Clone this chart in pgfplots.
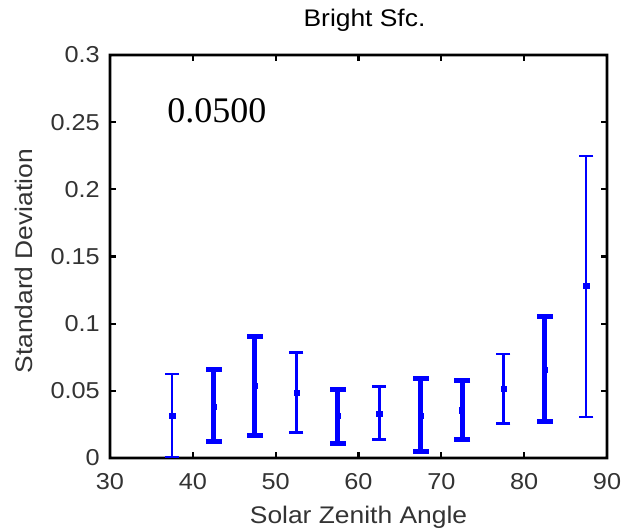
\documentclass[border=0pt]{standalone}
\usepackage{fontspec}
\setmainfont{Liberation Sans}[FakeStretch=1.1]
\newfontfamily\serifnum{Liberation Serif}
\usepackage{pgfplots}
\pgfplotsset{compat=1.18}
\definecolor{barblue}{RGB}{0,0,255}
\begin{document}
\begin{tikzpicture}
\begin{axis}[
  scale only axis,
  width=497pt, height=403pt,
  xmin=30, xmax=90, ymin=0, ymax=0.3,
  xtick={30,40,50,60,70,80,90},
  xticklabels={30,40,50,60,70,80,90},
  ytick={0,0.05,0.1,0.15,0.2,0.25,0.3},
  yticklabels={0,0.05,0.1,0.15,0.2,0.25,0.3},
  major tick length=0pt,
  axis line style={draw=none},
  unbounded coords=jump,
  xticklabel style={font=\fontsize{23}{26}\selectfont, inner sep=0pt, anchor=north, yshift=-15pt, text=black!80},
  yticklabel style={font=\fontsize{23}{26}\selectfont, inner sep=0pt, anchor=east, xshift=-10pt, text=black!80},
  xlabel={Solar Zenith Angle},
  ylabel={Standard Deviation},
  title={Bright Sfc.},
  xlabel style={font=\fontsize{24}{28}\selectfont, at={(axis description cs:0.5,0)}, anchor=base, yshift=-66pt, inner sep=0pt, text=black!80},
  ylabel style={font=\fontsize{24}{28}\selectfont, at={(axis description cs:-0.155,0.488)}, anchor=base, inner sep=0pt, text=black!80},
  title style={font=\fontsize{24}{28}\selectfont, at={(axis description cs:0.5,1)}, anchor=base, yshift=22pt, xshift=6pt, inner sep=0pt},
  clip=false,
]
% frame as a filled ring
\addplot[fill=black, draw=none, even odd rule] coordinates {
 (29.843,-0.00097) (90.157,-0.00097) (90.157,0.30097) (29.843,0.30097) (29.843,-0.00097)
 (30.157,0.00097) (30.157,0.29903) (89.843,0.29903) (89.843,0.00097) (30.157,0.00097)
 (29.843,-0.00097)} \closedcycle;
% inward ticks as filled rectangles (bottom)
\addplot[fill=black, draw=none] coordinates {(39.867,0) (40.133,0) (40.133,0.0045) (39.867,0.0045)};
\addplot[fill=black, draw=none] coordinates {(49.867,0) (50.133,0) (50.133,0.0045) (49.867,0.0045)};
\addplot[fill=black, draw=none] coordinates {(59.867,0) (60.133,0) (60.133,0.0045) (59.867,0.0045)};
\addplot[fill=black, draw=none] coordinates {(69.867,0) (70.133,0) (70.133,0.0045) (69.867,0.0045)};
\addplot[fill=black, draw=none] coordinates {(79.867,0) (80.133,0) (80.133,0.0045) (79.867,0.0045)};
% top
\addplot[fill=black, draw=none] coordinates {(39.867,0.3) (40.133,0.3) (40.133,0.2955) (39.867,0.2955)};
\addplot[fill=black, draw=none] coordinates {(49.867,0.3) (50.133,0.3) (50.133,0.2955) (49.867,0.2955)};
\addplot[fill=black, draw=none] coordinates {(59.867,0.3) (60.133,0.3) (60.133,0.2955) (59.867,0.2955)};
\addplot[fill=black, draw=none] coordinates {(69.867,0.3) (70.133,0.3) (70.133,0.2955) (69.867,0.2955)};
\addplot[fill=black, draw=none] coordinates {(79.867,0.3) (80.133,0.3) (80.133,0.2955) (79.867,0.2955)};
% left
\addplot[fill=black, draw=none] coordinates {(30,0.04918) (30.72,0.04918) (30.72,0.05082) (30,0.05082)};
\addplot[fill=black, draw=none] coordinates {(30,0.09918) (30.72,0.09918) (30.72,0.10082) (30,0.10082)};
\addplot[fill=black, draw=none] coordinates {(30,0.14918) (30.72,0.14918) (30.72,0.15082) (30,0.15082)};
\addplot[fill=black, draw=none] coordinates {(30,0.19918) (30.72,0.19918) (30.72,0.20082) (30,0.20082)};
\addplot[fill=black, draw=none] coordinates {(30,0.24918) (30.72,0.24918) (30.72,0.25082) (30,0.25082)};
% right
\addplot[fill=black, draw=none] coordinates {(90,0.04918) (89.28,0.04918) (89.28,0.05082) (90,0.05082)};
\addplot[fill=black, draw=none] coordinates {(90,0.09918) (89.28,0.09918) (89.28,0.10082) (90,0.10082)};
\addplot[fill=black, draw=none] coordinates {(90,0.14918) (89.28,0.14918) (89.28,0.15082) (90,0.15082)};
\addplot[fill=black, draw=none] coordinates {(90,0.19918) (89.28,0.19918) (89.28,0.20082) (90,0.20082)};
\addplot[fill=black, draw=none] coordinates {(90,0.24918) (89.28,0.24918) (89.28,0.25082) (90,0.25082)};
% thin bars: 37.5, 77.5, 87.5
\addplot[barblue, line width=2.2pt] coordinates {
 (37.5,0.0010) (37.5,0.0626) (37.5,nan)
 (77.5,0.0257) (77.5,0.0775) (77.5,nan)
 (87.5,0.0307) (87.5,0.2250)};
\addplot[barblue, only marks, mark=-, mark size=7pt, mark options={line width=2.2pt, barblue}] coordinates {
 (37.5,0.0010) (37.5,0.0626)
 (77.5,0.0257) (77.5,0.0775)
 (87.5,0.0307) (87.5,0.2250)};
% medium bars: 52.5, 62.5
\addplot[barblue, line width=3pt] coordinates {
 (52.5,0.0187) (52.5,0.0785) (52.5,nan)
 (62.5,0.0137) (62.5,0.0530)};
\addplot[barblue, only marks, mark=-, mark size=7pt, mark options={line width=3pt, barblue}] coordinates {
 (52.5,0.0187) (52.5,0.0785)
 (62.5,0.0137) (62.5,0.0530)};
% thick bars
\addplot[barblue, line width=5pt] coordinates {
 (42.5,0.0120) (42.5,0.0656) (42.5,nan)
 (47.5,0.0170) (47.5,0.0905) (47.5,nan)
 (57.5,0.0105) (57.5,0.0513) (57.5,nan)
 (67.5,0.0052) (67.5,0.0593) (67.5,nan)
 (72.5,0.0137) (72.5,0.0576) (72.5,nan)
 (82.5,0.0269) (82.5,0.1050)};
\addplot[barblue, only marks, mark=-, mark size=8pt, mark options={line width=5pt, barblue}] coordinates {
 (42.5,0.0120) (42.5,0.0656)
 (47.5,0.0170) (47.5,0.0905)
 (57.5,0.0105) (57.5,0.0513)
 (67.5,0.0052) (67.5,0.0593)
 (72.5,0.0137) (72.5,0.0576)
 (82.5,0.0269) (82.5,0.1050)};
% centres
\addplot[barblue, only marks, mark=square*, mark size=2.6pt, mark options={line width=0.4pt, barblue, fill=barblue}] coordinates {
 (37.5,0.0314) (42.5,0.0381) (47.5,0.0538) (52.5,0.0486) (57.5,0.0314)
 (62.5,0.0332) (67.5,0.0314) (72.5,0.0356) (77.5,0.0513) (82.5,0.0656) (87.5,0.1280)};
\node[anchor=base west, inner sep=0pt, font=\serifnum\fontsize{36}{40}\selectfont] at (axis cs:36.9,0.25) {0.0500};
\end{axis}
\pgfresetboundingbox
\path[use as bounding box] ([xshift=-110pt, yshift=-70pt]current axis.south west) rectangle ([xshift=31pt, yshift=55pt]current axis.north east);
\end{tikzpicture}
\end{document}
